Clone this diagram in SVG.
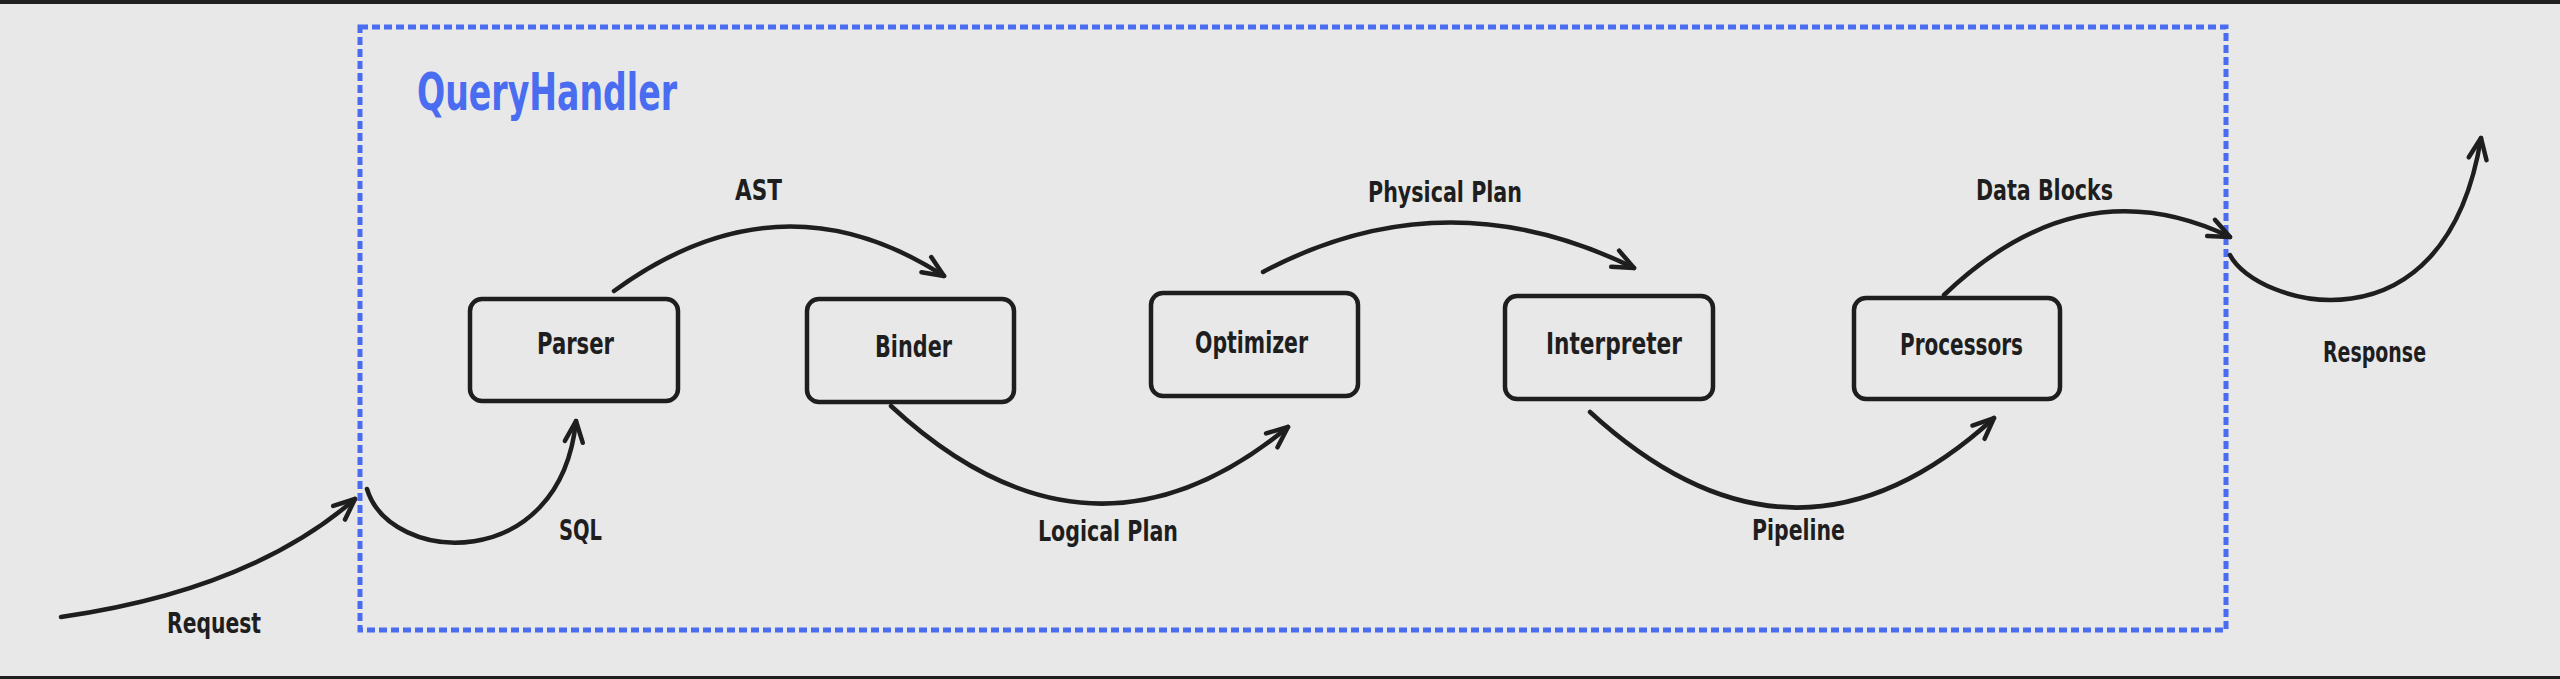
<svg xmlns="http://www.w3.org/2000/svg" width="2560" height="679" viewBox="0 0 2560 679">
<style>
.node rect{fill:none;stroke:#1e1e1e;stroke-width:4.5;}
.conn path{fill:none;stroke:#1e1e1e;stroke-width:4.5;stroke-linecap:round;stroke-linejoin:round;}
text{font-family:"Liberation Sans Narrow","DejaVu Sans Condensed","DejaVu Sans",sans-serif;font-stretch:condensed;fill:#1e1e1e;font-weight:bold;}
.nl{font-size:31px;}
.el{font-size:29px;}
.title{font-size:52px;fill:#4a6cf0;}
</style>
<defs>
<marker id="ah" markerUnits="userSpaceOnUse" markerWidth="40" markerHeight="40" viewBox="-30 -20 40 40" refX="0" refY="0" orient="auto" overflow="visible">
<path d="M-21 -9 L0 0 L-21 9" fill="none" stroke="#1e1e1e" stroke-width="4.5" stroke-linecap="round" stroke-linejoin="round"/>
</marker>
</defs>
<rect x="0" y="0" width="2560" height="679" fill="#e8e8e8"/>
<rect x="0" y="0" width="2560" height="4" fill="#1f1f1f"/>
<rect x="0" y="676" width="2560" height="3" fill="#1f1f1f"/>
<g id="queryhandler">
<rect x="360" y="27" width="1866" height="603" fill="none" stroke="#4a6cf0" stroke-width="5" stroke-dasharray="8 4"/>
<text class="title" x="417" y="110" textLength="260" lengthAdjust="spacingAndGlyphs">QueryHandler</text>
</g>
<g id="parser" class="node">
<rect x="470" y="299" width="208" height="102" rx="12"/>
<text class="nl" x="537" y="354" textLength="77" lengthAdjust="spacingAndGlyphs">Parser</text>
</g>
<g id="binder" class="node">
<rect x="807" y="299" width="207" height="103" rx="12"/>
<text class="nl" x="875" y="357" textLength="77" lengthAdjust="spacingAndGlyphs">Binder</text>
</g>
<g id="optimizer" class="node">
<rect x="1151" y="293" width="207" height="103" rx="12"/>
<text class="nl" x="1195" y="353" textLength="113" lengthAdjust="spacingAndGlyphs">Optimizer</text>
</g>
<g id="interpreter" class="node">
<rect x="1505" y="296" width="208" height="103" rx="12"/>
<text class="nl" x="1546" y="354" textLength="136" lengthAdjust="spacingAndGlyphs">Interpreter</text>
</g>
<g id="processors" class="node">
<rect x="1854" y="298" width="206" height="101" rx="12"/>
<text class="nl" x="1900" y="355" textLength="123" lengthAdjust="spacingAndGlyphs">Processors</text>
</g>
<g id="connectors" class="conn">
<path d="M61 617 Q250 590 355 499" marker-end="url(#ah)"/>
<path d="M367 489 C390 565 560 575 576 421" marker-end="url(#ah)"/>
<path d="M614 291 Q780 170 944 276" marker-end="url(#ah)"/>
<path d="M891 406 Q1090 590 1288 427" marker-end="url(#ah)"/>
<path d="M1263 272 Q1445 175 1634 268" marker-end="url(#ah)"/>
<path d="M1590 412 Q1795 600 1994 418" marker-end="url(#ah)"/>
<path d="M1944 295 Q2080 165 2230 237" marker-end="url(#ah)"/>
<path d="M2230 255 C2255 305 2445 360 2481 138" marker-end="url(#ah)"/>
</g>
<g id="labels">
<text class="el" x="167" y="633" textLength="94" lengthAdjust="spacingAndGlyphs">Request</text>
<text class="el" x="559" y="540" textLength="43" lengthAdjust="spacingAndGlyphs">SQL</text>
<text class="el" x="735" y="200" textLength="47" lengthAdjust="spacingAndGlyphs">AST</text>
<text class="el" x="1038" y="541" textLength="140" lengthAdjust="spacingAndGlyphs">Logical Plan</text>
<text class="el" x="1368" y="202" textLength="154" lengthAdjust="spacingAndGlyphs">Physical Plan</text>
<text class="el" x="1752" y="540" textLength="93" lengthAdjust="spacingAndGlyphs">Pipeline</text>
<text class="el" x="1976" y="200" textLength="137" lengthAdjust="spacingAndGlyphs">Data Blocks</text>
<text class="el" x="2323" y="362" textLength="103" lengthAdjust="spacingAndGlyphs">Response</text>
</g>
</svg>
